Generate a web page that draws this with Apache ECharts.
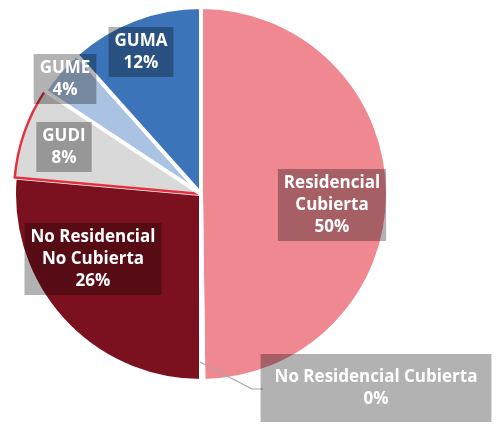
<!DOCTYPE html>
<html><head><meta charset="utf-8">
<script src="https://cdn.jsdelivr.net/npm/echarts@6/dist/echarts.min.js"></script>
<style>html,body{margin:0;padding:0;background:#fff}#c{width:501px;height:425px}</style>
</head><body><div id="c"></div>
<script>
const categories = ['Residencial Cubierta', 'No Residencial Cubierta', 'No Residencial No Cubierta', 'GUDI', 'GUME', 'GUMA'];
const labelNames = ['Residencial\nCubierta', 'No Residencial Cubierta', 'No Residencial\nNo Cubierta', 'GUDI', 'GUME', 'GUMA'];
const values = [49.8, 0.2, 26.4, 7.9, 4.1, 11.6];

const colors = ['#F08892', '#C9C9C9', '#7B111F', '#D9D9D9', '#AAC3E3', '#3C74B9'];
const borderColors = ['#fff', '#fff', '#fff', '#E3323F', '#fff', '#fff'];
const borderWidths = [4, 4, 4, 2.5, 4, 4];
// label box centres (layout only)
const labelCenters = [[332, 205], [376, 388], [93, 259], [64, 147], [65, 79], [141, 52]];
const leaderLine = [[200, 362], [252, 389], [263, 389]];
const OUTSIDE = 1; // index of the slice labelled outside with a leader line

const baseLabel = {
  show: true,
  formatter: p => labelNames[p.dataIndex] + '\n' + Math.round(p.percent) + '%',
  color: '#fff',
  fontFamily: 'Open Sans',
  fontWeight: 'bold',
  fontSize: 17,
  lineHeight: 22,
  align: 'center',
  backgroundColor: 'rgba(0,0,0,0.3)',
  padding: [3, 6, 3, 6]
};
const layoutFn = function (params) {
  const c = labelCenters[params.dataIndex];
  const r = {x: c[0], y: c[1], align: 'center', verticalAlign: 'middle'};
  if (params.dataIndex === OUTSIDE) r.labelLinePoints = leaderLine;
  return r;
};
const common = {
  type: 'pie',
  center: [201, 194],
  radius: [0, 187],
  startAngle: 90,
  clockwise: true,
  avoidLabelOverlap: false,
  silent: true
};

const chart = echarts.init(document.getElementById('c'), null, {renderer: 'canvas'});
chart.setOption({
  animation: false,
  series: [
    Object.assign({}, common, {
      z: 2,
      data: categories.map((n, i) => ({
        name: n,
        value: values[i],
        itemStyle: {color: colors[i], borderColor: borderColors[i], borderWidth: borderWidths[i]},
        label: {show: i !== OUTSIDE, position: 'inside'},
        labelLine: {show: false}
      })),
      label: baseLabel,
      labelLayout: layoutFn
    }),
    Object.assign({}, common, {
      z: 5,
      data: categories.map((n, i) => ({
        name: n,
        value: values[i],
        itemStyle: {color: 'rgba(0,0,0,0)', borderWidth: 0},
        label: i === OUTSIDE ? {show: true, position: 'outside', padding: [12, 14, 12, 14]} : {show: false},
        labelLine: {show: i === OUTSIDE, showAbove: true, lineStyle: {color: '#A6A6A6', width: 1.2}}
      })),
      label: baseLabel,
      labelLayout: layoutFn
    })
  ]
});
</script></body></html>
